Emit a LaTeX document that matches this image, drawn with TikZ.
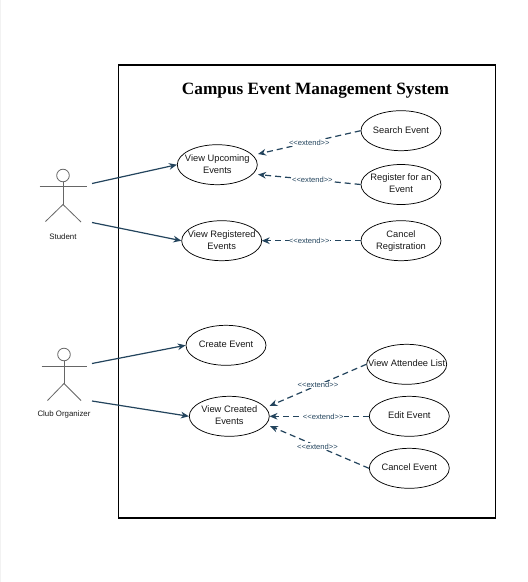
\documentclass[tikz,border=0pt]{standalone}
\usepackage{fontspec}
\setmainfont{Liberation Sans}
\newfontfamily\titlefont{Liberation Serif}
\usetikzlibrary{arrows.meta,shapes.geometric}
\definecolor{edge}{HTML}{23445D}
\definecolor{stick}{HTML}{666666}
\newcommand\uctext[1]{\makebox[0pt][c]{\raisebox{-0.7pt}{\begin{tabular}{@{}c@{}}#1\end{tabular}}}}
\newcommand\extendtext{<{}<extend>{}>}
\tikzset{
  x=0.75pt,y=-0.75pt,
  usecase/.style={draw=black,fill=white,ellipse,line width=0.55pt,minimum width=60pt,minimum height=30pt,inner sep=0pt,font=\fontsize{7}{9}\selectfont,text=black!90},
  assoc/.style={draw=edge,line width=0.9pt,-{Stealth[length=6pt,width=5pt]}},
  ext/.style={draw=edge,line width=0.9pt,dash pattern=on 4.5pt off 3pt,-{Stealth[length=6pt,width=5pt]}},
  extlabel/.style={fill=white,inner sep=0.3pt,font=\fontsize{5.7}{6}\selectfont,text=edge},
  limb/.style={draw=stick,line width=0.6pt},
  actorlabel/.style={font=\fontsize{5.9}{7}\selectfont,text=black!90,inner sep=0pt},
}
\begin{document}
\begin{tikzpicture}
\useasboundingbox (0,0) rectangle (528,582);
\fill[white] (0,0) rectangle (528,582);
\fill[black!5] (0,0) rectangle (1.2,582);
\draw[black,line width=0.9pt] (118.7,65) rectangle (495.3,518);
\node[font=\titlefont\bfseries\fontsize{12.95}{15}\selectfont,inner sep=0pt] (title) at (315.5,90.5) {Campus Event Management System};

\node[usecase] (upcoming) at (217.3,164.7) {\uctext{View Upcoming\\Events}};
\node[usecase] (search) at (401,130.7) {\uctext{Search Event}};
\node[usecase] (register) at (401,184.5) {\uctext{Register for an\\Event}};
\node[usecase] (registered) at (221.7,240.7) {\uctext{View Registered\\Events}};
\node[usecase] (cancelreg) at (401,240.7) {\uctext{Cancel\\Registration}};
\node[usecase] (create) at (226,345.3) {\uctext{Create Event}};
\node[usecase] (attendee) at (406.7,364.3) {\uctext{View Attendee List}};
\node[usecase] (created) at (229.3,416.3) {\uctext{View Created\\Events}};
\node[usecase] (edit) at (409.3,416.3) {\uctext{Edit Event}};
\node[usecase] (cancelev) at (409.3,468.3) {\uctext{Cancel Event}};

% Student
\draw[limb] (63,175.5) circle (6.3);
\draw[limb] (63,181.8) -- (63,204.5);
\draw[limb] (39.5,186.5) -- (86.5,186.5);
\draw[limb] (45.5,221.5) -- (63,204.5) -- (81,222);
\node[actorlabel] (student) at (63,236.5) {Student};
\coordinate (s1) at (92,183.5);
\coordinate (s2) at (92,222.5);

% Club organizer
\draw[limb] (64,354.5) circle (6.3);
\draw[limb] (64,360.8) -- (64,383.5);
\draw[limb] (41.5,366) -- (86.5,366);
\draw[limb] (47.5,400.5) -- (64,383.5) -- (81,400.5);
\node[actorlabel] (club) at (64,414.5) {Club Organizer};
\coordinate (c1) at (92,363.5);
\coordinate (c2) at (92,401);

\coordinate (e1) at (258,154);
\coordinate (e2) at (258,174.5);
\coordinate (e3) at (261.7,240.7);
\coordinate (e4) at (269.5,406);
\coordinate (e5) at (269.5,416.3);
\coordinate (e6) at (270,426);

\draw[assoc] (s1) -- (upcoming.west);
\draw[assoc] (s2) -- (registered.west);
\draw[assoc] (c1) -- (create.west);
\draw[assoc] (c2) -- (created.west);

\draw[ext] (search.west) -- node[extlabel,pos=0.5] {\extendtext} (e1);
\draw[ext] (register.west) -- node[extlabel,pos=0.47] {\extendtext} (e2);
\draw[ext] (cancelreg.west) -- node[extlabel,pos=0.52] {\extendtext} (e3);
\draw[ext] (attendee.west) -- node[extlabel,pos=0.5] {\extendtext} (e4);
\draw[ext] (edit.west) -- node[extlabel,pos=0.46] {\extendtext} (e5);
\draw[ext] (cancelev.west) -- node[extlabel,pos=0.52] {\extendtext} (e6);
\end{tikzpicture}
\end{document}
